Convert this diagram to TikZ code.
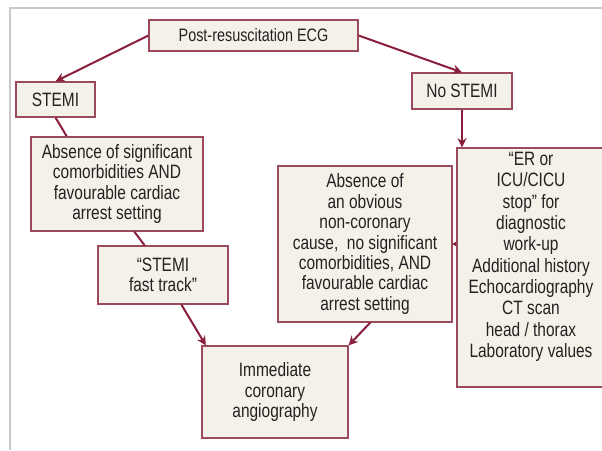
\documentclass[tikz,border=0pt]{standalone}
\usepackage{fontspec}
\setmainfont{Liberation Sans}[FakeStretch=0.8]
\usepackage{tikz}
\usetikzlibrary{calc, arrows.meta}

\definecolor{boxfill}{HTML}{F4F1E8}
\definecolor{boxline}{HTML}{9A4A5C}
\definecolor{arrowred}{HTML}{8A1F3C}
\definecolor{framegray}{HTML}{C9C9C9}
\definecolor{textgray}{HTML}{222222}

\begin{document}
\begin{tikzpicture}[x=0.75pt, y=-0.75pt, >=stealth,
  every box/.style={draw=boxline, line width=0.9pt, fill=boxfill, inner sep=0pt,
    align=center, text=textgray, font=\fontsize{14.5}{15.3}\selectfont},
  link/.style={draw=arrowred, line width=1.5pt},
  arrow/.style={link, -{Stealth[length=7pt, width=7pt]}}]

\useasboundingbox (0,0) rectangle (602,450);

% frame
\draw [framegray, line width=1.2pt] (10,450) -- (10,8) -- (602,8);

% boxes
\node [every box, minimum width=156.75pt, minimum height=23.25pt, font=\fontsize{13.5}{15}\selectfont] (ecg) at (253.5,35.5) {Post-resuscitation ECG};
\node [every box, minimum width=59.25pt, minimum height=26.25pt] (stemi) at (55.5,99.5) {STEMI};
\node [every box, minimum width=75pt, minimum height=27pt] (nostemi) at (462,91) {No STEMI};
\node [every box, minimum width=129pt, minimum height=70.5pt] (abs-sig) at (117,184)
  {Absence of significant\\comorbidities AND\\favourable cardiac\\arrest setting};
\node [every box, minimum width=97.5pt, minimum height=43.5pt] (fast) at (163,275)
  {“STEMI\\fast track”};
\node [every box, minimum width=109.5pt, minimum height=69pt] (angio) at (275,392)
  {Immediate\\coronary\\angiography};
\node [every box, minimum width=130.5pt, minimum height=117pt] (abs-cause) at (365,244)
  {Absence of\\an obvious\\non-coronary\\cause,~ no significant\\comorbidities, AND\\favourable cardiac\\arrest setting};
\node [every box, minimum width=111pt, minimum height=179.25pt, font=\fontsize{14.5}{16}\selectfont] (stop) at (531,267.5)
  {“ER or\\ICU/CICU\\stop” for\\diagnostic\\work-up\\Additional history\\Echocardiography\\CT scan\\head / thorax\\Laboratory values\\[3pt]};

% end points on the box sides
\coordinate (stemi-in)  at ($(abs-sig.north west)!0.21!(abs-sig.north east)$);
\coordinate (sig-out)   at ($(abs-sig.south west)!0.60!(abs-sig.south east)$);
\coordinate (fast-in)   at ($(fast.north west)!0.36!(fast.north east)$);
\coordinate (fast-out)  at ($(fast.south west)!0.64!(fast.south east)$);
\coordinate (angio-in)  at ($(angio.north west)!0.03!(angio.north east)$);
\coordinate (cause-out) at ($(abs-cause.south west)!0.53!(abs-cause.south east)$);
\coordinate (stop-in)   at (nostemi.south |- stop.north);
\coordinate (stop-out)  at (stop.west |- abs-cause.east);

% plain links
\draw [link] (stemi.south) -- (stemi-in);
\draw [link] (sig-out) -- (fast-in);

% arrows
\foreach \a/\b in {ecg.west/stemi.north, ecg.east/nostemi.north, nostemi.south/stop-in,
                   fast-out/angio-in, cause-out/angio.north east}
  \draw [arrow] (\a) -- (\b);

\draw [link, -{Stealth[length=3pt, width=4pt]}] (stop-out) -- (abs-cause.east);

\end{tikzpicture}
\end{document}
